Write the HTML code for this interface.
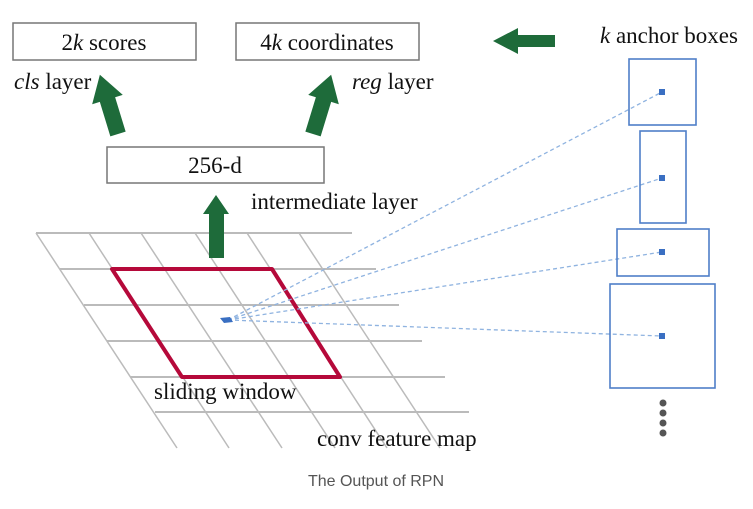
<!DOCTYPE html>
<html><head><style>
body{margin:0;background:#fff;}
svg text{font-family:"Liberation Serif",serif;fill:#111;}
</style></head><body>
<svg width="753" height="504" xmlns="http://www.w3.org/2000/svg">
<g stroke="#bbb" stroke-width="2">
<line x1="36" y1="233" x2="352" y2="233"/>
<line x1="60" y1="269" x2="376" y2="269"/>
<line x1="84" y1="305" x2="399" y2="305"/>
<line x1="107" y1="341" x2="422" y2="341"/>
<line x1="130" y1="377" x2="445" y2="377"/>
<line x1="155" y1="412" x2="469" y2="412"/>
</g>
<g stroke="#bbb" stroke-width="1.5">
<line x1="36" y1="233" x2="177" y2="448"/>
<line x1="89" y1="233" x2="229" y2="448"/>
<line x1="141" y1="233" x2="282" y2="448"/>
<line x1="195" y1="233" x2="335" y2="448"/>
<line x1="247" y1="233" x2="387" y2="448"/>
<line x1="299" y1="233" x2="440" y2="448"/>
</g>
<polygon points="112,269 272,269 340,377 182,377" fill="none" stroke="#b5093a" stroke-width="4" stroke-linejoin="round"/>
<g stroke="#8fb3e0" stroke-width="1.3" stroke-dasharray="4,3" fill="none">
<line x1="228" y1="320" x2="662" y2="92"/>
<line x1="228" y1="320" x2="662" y2="178"/>
<line x1="228" y1="320" x2="662" y2="252"/>
<line x1="228" y1="320" x2="662" y2="336"/>
</g>
<polygon points="220,318 230,317 233,322 224,323" fill="#3a6fc2"/>
<g fill="none" stroke="#4f7fc8" stroke-width="1.6">
<rect x="629" y="59" width="67" height="66"/>
<rect x="640" y="131" width="46" height="92"/>
<rect x="617" y="229" width="92" height="47"/>
<rect x="610" y="284" width="105" height="104"/>
</g>
<g fill="#3a6fc2">
<rect x="659" y="89" width="6" height="6"/>
<rect x="659" y="175" width="6" height="6"/>
<rect x="659" y="249" width="6" height="6"/>
<rect x="659" y="333" width="6" height="6"/>
</g>
<g fill="#555">
<circle cx="663" cy="403" r="3.5"/><circle cx="663" cy="413" r="3.5"/>
<circle cx="663" cy="423" r="3.5"/><circle cx="663" cy="433" r="3.5"/>
</g>
<g fill="#fff" stroke="#777" stroke-width="1.5">
<rect x="13" y="23" width="183" height="37"/>
<rect x="236" y="23" width="183" height="37"/>
<rect x="107" y="147" width="217" height="36"/>
</g>
<g fill="#1e6b3a">
<polygon points="493,41 518,28 518,35 555,35 555,47 518,47 518,54"/>
<polygon points="216,195 229,214 224,214 224,258 209,258 209,214 203,214"/>
<g transform="translate(118,134) rotate(-17)"><polygon points="0,-62 16,-36 8,-36 8,0 -8,0 -8,-36 -16,-36"/></g>
<g transform="translate(313,134) rotate(17)"><polygon points="0,-62 16,-36 8,-36 8,0 -8,0 -8,-36 -16,-36"/></g>
</g>
<g font-size="23">
<text x="104" y="50" text-anchor="middle">2<tspan font-style="italic">k</tspan> scores</text>
<text x="327" y="50" text-anchor="middle">4<tspan font-style="italic">k</tspan> coordinates</text>
<text x="215" y="173" text-anchor="middle">256-d</text>
<text x="14" y="89"><tspan font-style="italic">cls</tspan> layer</text>
<text x="352" y="89"><tspan font-style="italic">reg</tspan> layer</text>
<text x="251" y="209">intermediate layer</text>
<text x="154" y="399">sliding window</text>
<text x="317" y="446">conv feature map</text>
<text x="600" y="43"><tspan font-style="italic">k</tspan> anchor boxes</text>
</g>
<text x="376" y="486" text-anchor="middle" font-size="16" style="font-family:'Liberation Sans',sans-serif;fill:#555">The Output of RPN</text>
</svg>
</body></html>
